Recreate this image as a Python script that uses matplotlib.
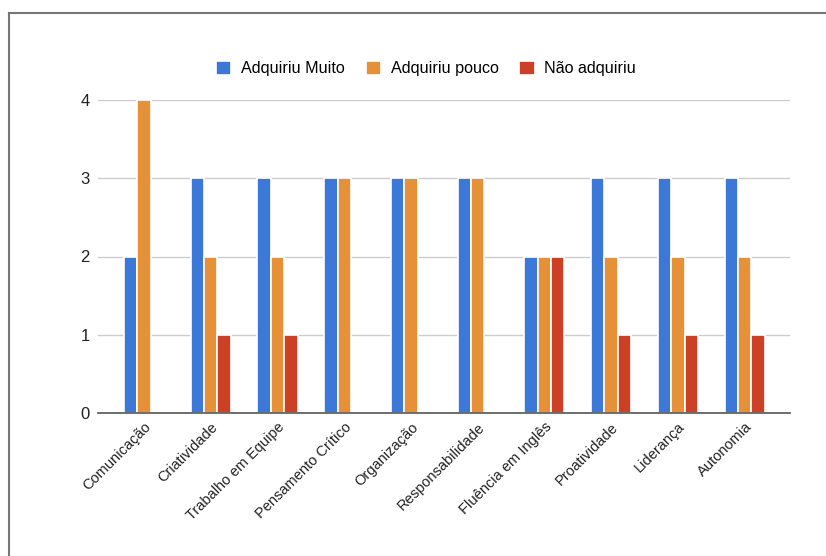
import numpy as np
import matplotlib.pyplot as plt
from matplotlib.lines import Line2D

plt.rcParams['font.family'] = ['Liberation Sans', 'DejaVu Sans']

# Data
categorias = ['Comunicação', 'Criatividade', 'Trabalho em Equipe', 'Pensamento Crítico',
              'Organização', 'Responsabilidade', 'Fluência em Inglês', 'Proatividade',
              'Liderança', 'Autonomia']
series_nomes = ['Adquiriu Muito', 'Adquiriu pouco', 'Não adquiriu']
adquiriu_muito = [2, 3, 3, 3, 3, 3, 2, 3, 3, 3]
adquiriu_pouco = [4, 2, 2, 3, 3, 3, 2, 2, 2, 2]
nao_adquiriu = [0, 1, 1, 0, 0, 0, 2, 1, 1, 1]
yticks = [0, 1, 2, 3, 4]

cores = ['#3c78d8', '#e69138', '#cc4125']

fig = plt.figure(figsize=(8.26, 5.56), dpi=100)
ax = fig.add_axes([98 / 826, 1 - 413 / 556, (790 - 98) / 826, (413 - 100) / 556])

x = np.arange(len(categorias))
w = 0.2
for i, (vals, nome, cor) in enumerate(zip([adquiriu_muito, adquiriu_pouco, nao_adquiriu], series_nomes, cores)):
    ax.bar(x + (i - 1) * w, vals, width=w, color=cor, edgecolor='white', linewidth=1.2,
           label=nome, zorder=3)

ax.set_ylim(0, 4)
ax.set_xlim(-0.69, 9.68)
ax.set_yticks(yticks)
ax.set_yticklabels([str(t) for t in yticks], fontsize=12, color='#222222')
ax.grid(axis='y', color='#cccccc', linewidth=1, zorder=0)
ax.set_xticks(x)
ax.set_xticklabels(categorias, rotation=45, ha='right', va='top', rotation_mode='anchor',
                   fontsize=10.5, color='#222222')
ax.tick_params(axis='x', length=0, pad=5)
ax.tick_params(axis='y', length=0, pad=6)
for s in ['top', 'right', 'left']:
    ax.spines[s].set_visible(False)
ax.spines['bottom'].set_color('#555555')
ax.spines['bottom'].set_linewidth(1.2)
ax.spines['bottom'].set_zorder(4)

ax.legend(loc='lower center', bbox_to_anchor=(0.474, 1.03), ncol=3, frameon=False,
          fontsize=11.6, handlelength=0.95, handleheight=0.95, handletextpad=0.6,
          columnspacing=1.3)

# Moldura
fig.add_artist(Line2D([8.5 / 826, 1], [1 - 13 / 556, 1 - 13 / 556], color='#777777', linewidth=1.5))
fig.add_artist(Line2D([8.5 / 826, 8.5 / 826], [0, 1 - 13 / 556], color='#777777', linewidth=1.5))

fig.savefig('out.png', dpi=100)
